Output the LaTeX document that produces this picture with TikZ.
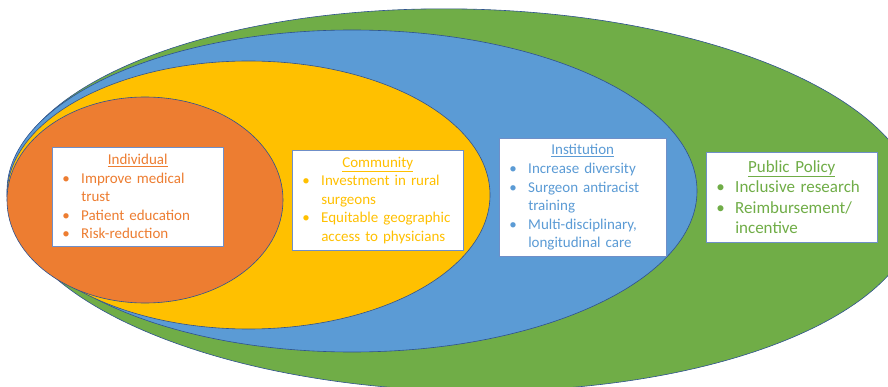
\documentclass[tikz,border=0pt]{standalone}
\usepackage{fontspec}
\setmainfont{Carlito}
\definecolor{levelgreen}{HTML}{70AD47}
\definecolor{levelblue}{HTML}{5B9BD5}
\definecolor{levelgold}{HTML}{FFC000}
\definecolor{levelorange}{HTML}{ED7D31}
\definecolor{ringline}{HTML}{2F528F}
\definecolor{boxline}{HTML}{6F8FC8}
\tikzset{
  ring/.style={draw=ringline, line width=.6pt},
  levelbox/.style={draw=boxline, line width=.5pt, fill=white, anchor=north west,
    align=left, inner xsep=10pt, inner ysep=0pt,
    font=\fontsize{15}{18.5}\selectfont}
}
\newcommand{\bul}{\makebox[19pt][l]{\textbullet}}
\newcommand{\cont}{\hspace*{19pt}}
\newcommand{\boxtitle}[1]{\makebox[\linewidth][c]{\underline{#1}}}

\begin{document}
\begin{tikzpicture}[x=1pt, y=-1pt]
\useasboundingbox (0,0) rectangle (888,387);
\clip (0,0) rectangle (888,387);
%\draw[help lines, step=50] (0,0) grid (888,387);
\draw [ring, fill=levelgreen, rotate around={-1.2:(463,200)}] (463,200) ellipse [x radius=455pt, y radius=191pt];
\draw [ring, fill=levelblue] (352,191) ellipse [x radius=345pt, y radius=161pt];
\draw [ring, fill=levelgold] (248.5,195) ellipse [x radius=241.5pt, y radius=134pt];
\draw [ring, fill=levelorange] (145,200) ellipse [x radius=138pt, y radius=103pt];

\node [levelbox, text=levelorange, text width=151pt, minimum height=99pt] (indiv) at (52,147)
  {\boxtitle{Individual}\\ \bul Improve medical\\ \cont trust\\ \bul Patient education\\ \bul Risk-reduction};
\node [levelbox, text=levelgold, text width=151pt, minimum height=100pt] (comm) at (292,150)
  {\boxtitle{Community}\\ \bul Investment in rural\\ \cont surgeons\\ \bul Equitable geographic\\ \cont access to physicians};
\node [levelbox, text=levelblue, text width=147pt, minimum height=118pt] (inst) at (499,138)
  {\boxtitle{Institution}\\[1pt] \bul Increase diversity\\ \bul Surgeon antiracist\\ \cont training\\ \bul Multi-disciplinary,\\ \cont longitudinal care};
\node [levelbox, text=levelgreen, text width=151pt, minimum height=90pt,
  font=\fontsize{17}{20.5}\selectfont] (policy) at (706,152)
  {\boxtitle{Public Policy}\\ \bul Inclusive research\\ \bul Reimbursement/\\ \cont incentive};
\end{tikzpicture}
\end{document}
